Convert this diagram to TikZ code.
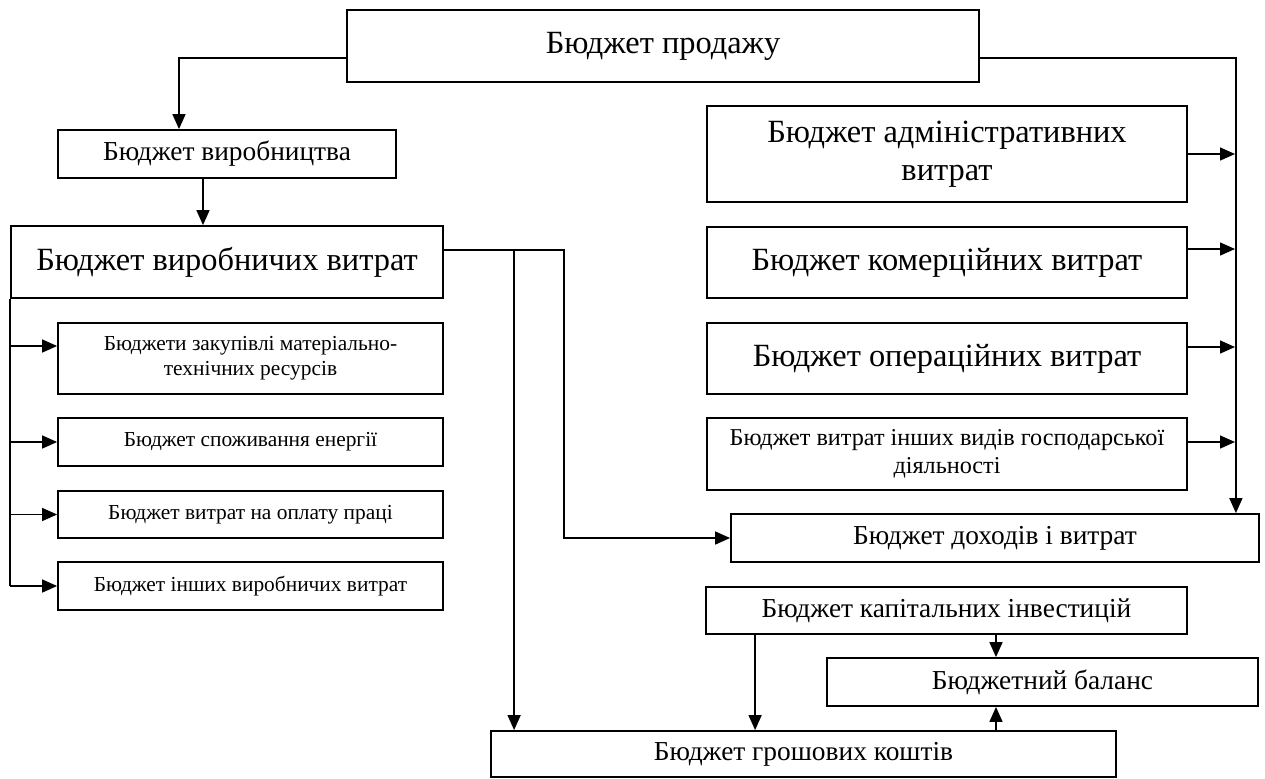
\documentclass[tikz,border=0pt]{standalone}
\usepackage{fontspec}
\setmainfont{Liberation Serif}
\usetikzlibrary{arrows.meta,positioning}
\newcommand{\fbig}{\fontsize{16.2}{19}\selectfont}
\newcommand{\fmid}{\fontsize{13.7}{15}\selectfont}
\newcommand{\fmidb}{\fontsize{12.1}{14}\selectfont}
\newcommand{\fsml}{\fontsize{10.7}{12.5}\selectfont}

\begin{document}
\begin{tikzpicture}[
  x=0.5pt, y=-0.5pt,
  box/.style={rectangle, draw=black, line width=0.9pt, align=center, inner sep=1pt},
  big/.style={box, font=\fbig},
  mid/.style={box, font=\fmid},
  sml/.style={box, font=\fsml, minimum width=192.5pt},
  rbox/.style={minimum width=240pt},
  arr/.style={-{Triangle[length=7.5pt, width=6.5pt]}, line width=0.75pt, black},
  ln/.style={line width=0.75pt, black}
]
\useasboundingbox (0,0) rectangle (1265,778);
\node[big, minimum width=316pt, minimum height=36pt] (prod) at (663,46) {Бюджет продажу};
\node[mid, minimum width=169pt, minimum height=24pt] (vyrob) at (227,154) {Бюджет виробництва};
\node[big, minimum width=216pt, minimum height=36pt] (vvyt) at (227,262) {Бюджет виробничих витрат};
\node[sml, minimum height=35.5pt] (zak) at (250.5,358.5) {Бюджети закупівлі матеріально-\\технічних ресурсів};
\node[sml, minimum height=24pt] (energ) at (250.5,442) {Бюджет споживання енергії};
\node[sml, minimum height=23.5pt] (opl) at (250.5,514.5) {Бюджет витрат на оплату праці};
\node[sml, minimum height=24pt] (inshvyr) at (250.5,586) {Бюджет інших виробничих витрат};
\node[big, rbox, minimum height=48pt] (adm) at (947,154) {Бюджет адміністративних\\витрат};
\node[big, rbox, minimum height=35.5pt] (kom) at (947,262.5) {Бюджет комерційних витрат};
\node[big, rbox, minimum height=35.5pt] (oper) at (947,358.5) {Бюджет операційних витрат};
\node[box, font=\fmidb, rbox, minimum height=36pt] (inshi) at (947,454) {Бюджет витрат інших видів господарської\\діяльності};
\node[mid, minimum width=264pt, minimum height=24pt] (dohod) at (995,538) {Бюджет доходів і витрат};
\node[mid, minimum width=240.5pt, minimum height=23.5pt] (kap) at (946.5,610.5) {Бюджет капітальних інвестицій};
\node[mid, minimum width=215.5pt, minimum height=24pt] (bal) at (1042.5,682) {Бюджетний баланс};
\node[mid, minimum width=312.5pt, minimum height=23pt] (grosh) at (803.5,754) {Бюджет грошових коштів};
\coordinate (rbus) at (1235,58);
% left branch
\draw[arr] ([yshift=-6pt]prod.west) -| ([xshift=-24pt]vyrob.north);
\draw[arr] ([xshift=-12pt]vyrob.south) -- ([xshift=-12pt]vvyt.north);
\draw[ln] (vvyt.south west) -- (vvyt.south west |- inshvyr.west);
\draw[arr] ([yshift=6.25pt]zak.west -| vvyt.south west) -- ([yshift=6.25pt]zak.west);
\draw[arr] (vvyt.south west |- energ.west) -- (energ.west);
\draw[arr] (vvyt.south west |- opl.west) -- (opl.west);
\draw[arr] (vvyt.south west |- inshvyr.west) -- (inshvyr.west);
% production costs
\draw[arr] ([yshift=6pt]vvyt.east) -| ([xshift=12pt]grosh.north west);
\draw[arr] ([yshift=6pt]vvyt.east) -- ++(120,0) |- (dohod.west);
% right branch
\draw[arr] ([yshift=-6pt]prod.east) -| ([xshift=-12pt]dohod.north east);
\draw[arr] (adm.east) -- (adm.east -| rbus);
\draw[arr] ([yshift=6.75pt]kom.east) -- ([yshift=6.75pt]kom.east -| rbus);
\draw[arr] ([yshift=5.75pt]oper.east) -- ([yshift=5.75pt]oper.east -| rbus);
\draw[arr] ([yshift=6pt]inshi.east) -- ([yshift=6pt]inshi.east -| rbus);
% investments and balance
\draw[arr] ([xshift=25pt]kap.south west) -- ([xshift=25pt]kap.south west |- grosh.north);
\draw[arr] ([xshift=24.75pt]kap.south) -- ([xshift=24.75pt]kap.south |- bal.north);
\draw[arr] ([xshift=96.25pt]grosh.north) -- ([xshift=96.25pt]grosh.north |- bal.south);
\end{tikzpicture}
\end{document}
